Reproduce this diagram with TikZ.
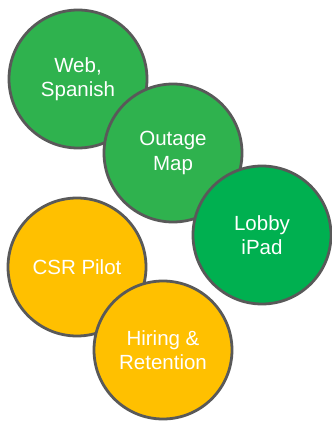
\documentclass[tikz,border=0pt]{standalone}
\usepackage{fontspec}
\setmainfont{Liberation Sans}
\definecolor{gA}{HTML}{2FB24E}
\definecolor{gB}{HTML}{00B050}
\definecolor{yA}{HTML}{FFC000}
\definecolor{rim}{HTML}{595959}
\begin{document}
\begin{tikzpicture}[x=1pt,y=-1pt,
  bubble/.style={circle,draw=rim,line width=2.8pt,minimum size=138pt,inner sep=0pt,
    text=white,align=center,font=\fontsize{20.5}{24.5}\selectfont}]
\useasboundingbox (0,0) rectangle (332,421);
\node[bubble,fill=gA] (web) at (78,79) {Web,\\Spanish};
\node[bubble,fill=gA] (map) at (173,153) {Outage\\Map};
\node[bubble,fill=gB] (lobby) at (262,235) {Lobby\\iPad};
\node[bubble,fill=yA] (csr) at (77,267) {CSR Pilot};
\node[bubble,fill=yA] (hire) at (163,350) {Hiring \&\\Retention};
\end{tikzpicture}
\end{document}
